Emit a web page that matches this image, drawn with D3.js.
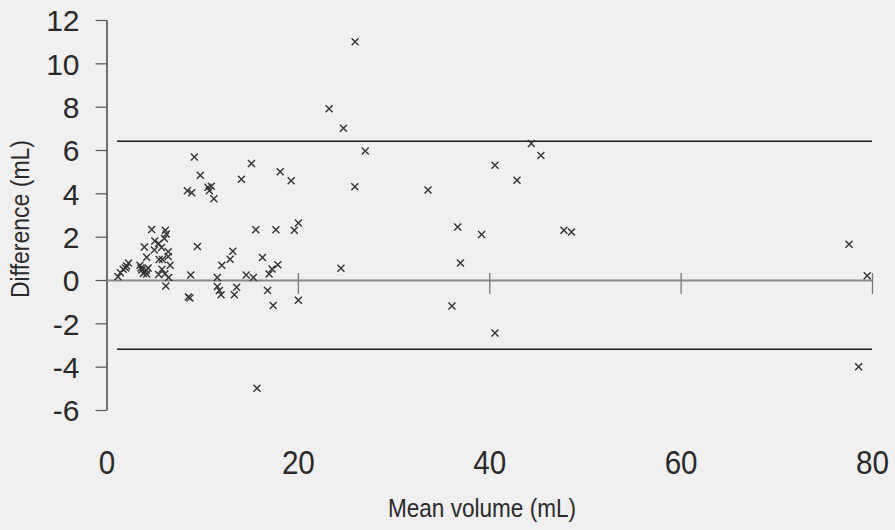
<!DOCTYPE html>
<html>
<head>
<meta charset="utf-8">
<script src="https://cdn.jsdelivr.net/npm/d3@7"></script>
<style>
  body { margin: 0; background: #f0f0f0; }
  svg { display: block; }
  text { font-family: "Liberation Sans", Arial, sans-serif; fill: #2a2a2a; }
</style>
</head>
<body>
<svg id="chart-svg" width="895" height="530"></svg>
<script>
////////////////////////////////////////////////////////////////////////////////
// Data: mean volume (mL) vs difference (mL)
var meanVol = [1.2, 1.45, 1.75, 2.0, 2.1, 2.3, 3.5, 3.6, 3.7, 3.85, 4.0, 4.15, 4.35, 4.2, 3.95, 4.72, 4.2,
               5.05, 5.0, 5.45, 5.5, 5.85, 6.15, 6.25, 6.05, 5.75, 6.45, 6.45, 6.65, 5.45, 5.8, 6.1, 6.5, 6.2,
               8.45, 8.9, 9.18, 9.8, 10.6, 10.95, 10.75, 11.22, 9.5, 8.8, 8.55, 8.72, 12.05, 12.92, 13.2,
               11.58, 11.58, 11.8, 11.97, 13.6, 13.36, 14.1, 15.15, 15.6, 14.6, 15.35, 15.73, 16.3, 16.99,
               17.3, 17.9, 16.83, 17.42, 17.7, 18.15, 19.3, 19.63, 20.05, 20.05,
               23.26, 24.76, 25.98, 27.04, 25.95, 24.5, 33.6, 36.7, 36.99, 36.1, 39.2, 40.6, 40.6, 42.9,
               44.4, 45.4, 47.8, 48.6, 77.6, 79.5, 78.6];
var diffVol = [0.15, 0.33, 0.5, 0.55, 0.65, 0.78, 0.68, 0.55, 0.46, 0.3, 0.38, 0.45, 0.55, 0.28, 1.52, 2.33, 1.05,
               1.8, 1.38, 1.68, 0.95, 0.95, 2.3, 2.12, 1.92, 1.5, 1.3, 1.08, 0.68, 0.25, 0.5, 0.28, 0.12, -0.28,
               4.12, 4.03, 5.68, 4.83, 4.28, 4.33, 4.12, 3.75, 1.55, 0.23, -0.78, -0.83, 0.68, 0.96, 1.33,
               0.12, -0.3, -0.48, -0.68, -0.34, -0.68, 4.65, 5.38, 2.32, 0.23, 0.12, -5.0, 1.04, 0.28,
               0.51, 0.7, -0.48, -1.18, 2.32, 5.0, 4.58, 2.3, 2.63, -0.93,
               7.9, 7.0, 11.0, 5.95, 4.3, 0.54, 4.15, 2.45, 0.78, -1.2, 2.1, 5.3, -2.45, 4.6,
               6.3, 5.75, 2.3, 2.22, 1.65, 0.2, -4.0];
var upperLimit = 6.4;   // mean + 2SD
var lowerLimit = -3.2;  // mean - 2SD
var limitRange = [1.1, 80];
var yTicks = [-6, -4, -2, 0, 2, 4, 6, 8, 10, 12];
var xTicksOnZero = [20, 40, 60, 80];
var xTickLabels = [0, 20, 40, 60, 80];
var xTitle = "Mean volume (mL)";
var yTitle = "Difference (mL)";

var points = meanVol.map(function(d, i) { return { x: d, y: diffVol[i] }; });

////////////////////////////////////////////////////////////////////////////////
const svg = d3.select("#chart-svg");
svg.append("rect").attr("width", 895).attr("height", 530).attr("fill", "#f0f0f0");

var x = d3.scaleLinear().domain([0, 80]).range([106.5, 872]);
var y = d3.scaleLinear().domain([-6, 12]).range([410, 20]);

// y axis (plain hyphen for negatives, like the original)
var gY = svg.append("g").attr("transform", "translate(" + x(0) + ",0)")
    .call(d3.axisLeft(y).tickValues(yTicks).tickSize(11).tickSizeOuter(0).tickPadding(16)
            .tickFormat(function(d) { return String(d); }));
gY.select(".domain").attr("stroke", "#444").attr("stroke-width", 1.5);
gY.selectAll(".tick line").attr("stroke", "#555").attr("stroke-width", 1.2);
gY.selectAll(".tick text")
    .attr("font-size", 30)
    .attr("font-family", "Liberation Sans, Arial, sans-serif")
    .attr("fill", "#2a2a2a")
    .attr("dy", "0.36em");

// zero line with ticks every 20
var gZero = svg.append("g").attr("transform", "translate(0," + y(0) + ")")
    .call(d3.axisBottom(x).tickValues(xTicksOnZero).tickSize(14).tickSizeOuter(0).tickFormat(""));
gZero.select(".domain").attr("stroke", "#888").attr("stroke-width", 2);
gZero.selectAll(".tick line").attr("y1", -7).attr("stroke", "#777").attr("stroke-width", 1.3);

// x tick labels (no axis line)
var gX = svg.append("g").attr("transform", "translate(0,462)")
    .call(d3.axisBottom(x).tickValues(xTickLabels).tickSize(0).tickPadding(0)
            .tickFormat(function(d) { return String(d); }));
gX.select(".domain").remove();
gX.selectAll(".tick text")
    .attr("y", 0)
    .attr("dy", "0.36em")
    .attr("font-size", 34)
    .attr("font-family", "Liberation Sans, Arial, sans-serif")
    .attr("fill", "#2a2a2a")
    .attr("textLength", function(d) { return String(d).length * 16.5; })
    .attr("lengthAdjust", "spacingAndGlyphs");

// limits of agreement
svg.selectAll(".limit")
    .data([upperLimit, lowerLimit])
    .enter()
    .append("line")
    .attr("class", "limit")
    .attr("x1", x(limitRange[0]))
    .attr("x2", x(limitRange[1]))
    .attr("y1", function(d) { return y(d); })
    .attr("y2", function(d) { return y(d); })
    .attr("stroke", "#1e1e1e")
    .attr("stroke-width", 1.5);

// points as crosses
svg.selectAll(".pt")
    .data(points)
    .enter()
    .append("path")
    .attr("class", "pt")
    .attr("transform", function(d) { return "translate(" + x(d.x) + "," + y(d.y) + ")"; })
    .attr("d", "M-3.5,-3.5L3.5,3.5M-3.5,3.5L3.5,-3.5")
    .attr("fill", "none")
    .attr("stroke", "#333")
    .attr("stroke-width", 1.4);

// axis titles
svg.append("text")
    .attr("x", 482)
    .attr("y", 508)
    .attr("text-anchor", "middle")
    .attr("dy", "0.36em")
    .attr("font-size", 26)
    .attr("textLength", 188)
    .attr("lengthAdjust", "spacingAndGlyphs")
    .text(xTitle);

svg.append("text")
    .attr("transform", "translate(20,219) rotate(-90)")
    .attr("text-anchor", "middle")
    .attr("dy", "0.36em")
    .attr("font-size", 25)
    .attr("textLength", 158)
    .attr("lengthAdjust", "spacingAndGlyphs")
    .text(yTitle);
</script>
</body>
</html>
